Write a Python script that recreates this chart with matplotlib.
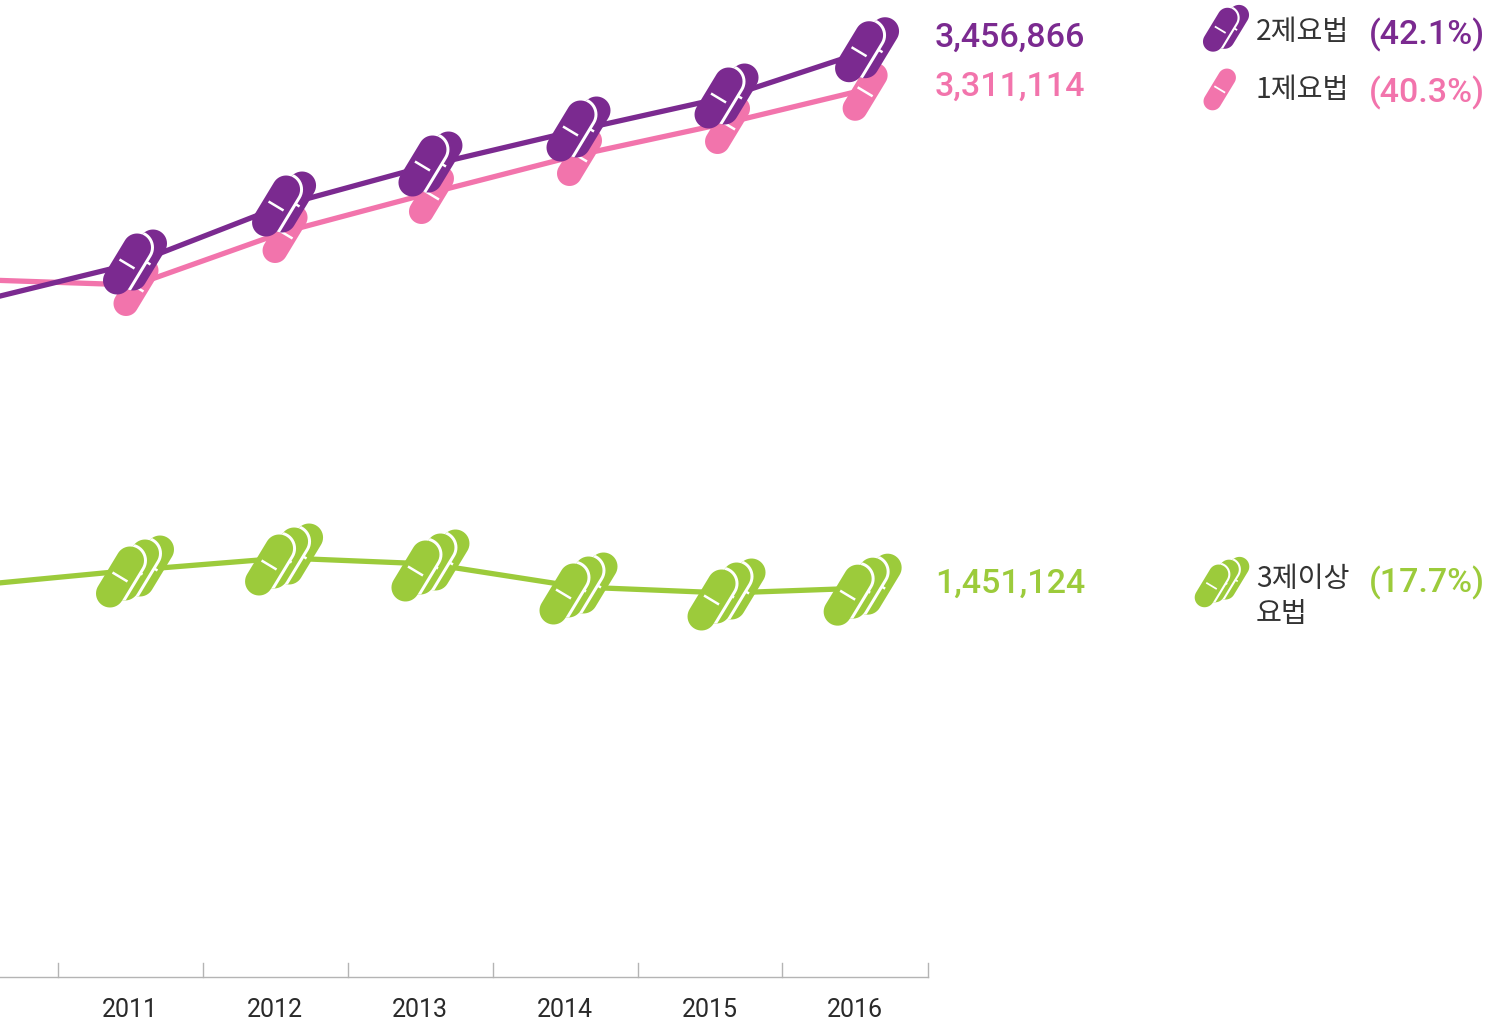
import numpy as np
import matplotlib
matplotlib.use("Agg")
import matplotlib.pyplot as plt
from matplotlib.path import Path
from matplotlib.patches import PathPatch
from matplotlib.transforms import IdentityTransform

W, H = 1504, 1022

# values
years = [2010, 2011, 2012, 2013, 2014, 2015, 2016]
tick_labels = ["2011", "2012", "2013", "2014", "2015", "2016"]
two_drugs = [2530296, 2664648, 2881104, 3030384, 3161004, 3284160, 3456866]
one_drug = [2601204, 2582544, 2780340, 2925888, 3067704, 3187128, 3311114]
three_drugs = [1466676, 1518924, 1563708, 1541316, 1455480, 1433088, 1451124]

# the marks do not sit evenly under the years in the original
two_x = [2010, 2011, 2012.014, 2013.01, 2014.017, 2015.024, 2015.98]
one_x = [2010, 2011, 2012.014, 2013.01, 2014.017, 2015.024, 2015.96]
three_x = [2010, 2011, 2012.014, 2013.01, 2014.017, 2015.024, 2015.95]

PURPLE = "#7b2a90"
PINK = "#f274ac"
GREEN = "#9ccb3b"
DARK = "#333333"
NUM_FONT = ["Roboto", "DejaVu Sans"]
KR_FONT = ["Noto Sans CJK KR", "DejaVu Sans"]

fig = plt.figure(figsize=(W / 100, H / 100), dpi=100)
ax = fig.add_axes([0, 0, 1, 1])
ax.axis("off")

# x: 147 px per year with 2011 at px 135, y: 3732 per px with 0 at px 977
ax.set_xlim(2011 - 135 / 147, 2011 + (W - 135) / 147)
ax.set_ylim(-(H - 977) * 3732, 977 * 3732)


def data_x(px):
    return 2011 + (px - 135) / 147


def data_y(py):
    return (977 - py) * 3732


def capsule(cx, cy, hx, hy, r):
    # capsule in display pixels, (cx, cy) with y up
    a = np.arctan2(hy, hx)
    t1 = np.linspace(a - np.pi / 2, a + np.pi / 2, 24)
    t2 = t1 + np.pi
    top = np.c_[cx + hx + r * np.cos(t1), cy + hy + r * np.sin(t1)]
    bot = np.c_[cx - hx + r * np.cos(t2), cy - hy + r * np.sin(t2)]
    pts = np.vstack([top, bot, top[:1]])
    codes = [Path.MOVETO] + [Path.LINETO] * (len(pts) - 2) + [Path.CLOSEPOLY]
    return Path(pts, codes)


def add_pill(cx, cy, color, s, r, z):
    hx, hy = 10 * s, 16.5 * s
    p = PathPatch(capsule(cx, cy, hx, hy, r * s), fc=color, ec="none",
                  transform=IdentityTransform(), zorder=z)
    ax.add_patch(p)
    ax.plot([cx - 7.5 * s, cx + 7.5 * s], [cy + 4.5 * s, cy - 4.5 * s], color="white",
            lw=1.8 * s, transform=IdentityTransform(), zorder=z, solid_capstyle="butt")
    return p


def pill_group(x, y, color, n, s=1.0, r=14, z=5):
    # stack of n pills, the front one at the left, white gap over those behind
    if n == 3:
        offs = [(15, 4), (0, 0), (-15, -7)]
    elif n == 2:
        offs = [(8, 3), (-8, -1)]
    else:
        offs = [(1, -2)]
    for i, (ox, oy) in enumerate(offs):
        cx, cy = x + ox * s, y + oy * s
        add_pill(cx, cy, color, s, r, z + i * 0.1)
        if i < len(offs) - 1:
            # white rim of the next pill, only where it lies on this one
            nx, ny = x + offs[i + 1][0] * s, y + offs[i + 1][1] * s
            rim = PathPatch(capsule(nx, ny, 10 * s, 16.5 * s, (r + 3) * s), fc="white", ec="none",
                            transform=IdentityTransform(), zorder=z + i * 0.1 + 0.05)
            ax.add_patch(rim)
            clip = PathPatch(capsule(cx, cy, 10 * s, 16.5 * s, r * s), transform=IdentityTransform())
            rim.set_clip_path(clip)


# baseline and ticks
ax.plot([data_x(0), data_x(928)], [0, 0], color="#b4b4b4", lw=1.0, zorder=1)
for px in [58, 203, 348, 493, 638, 782, 928]:
    ax.plot([data_x(px), data_x(px)], [0, data_y(963)], color="#b4b4b4", lw=1.0, zorder=1)
for k, lab in enumerate(tick_labels):
    ax.text(data_x(130 + 145 * k), data_y(1010), lab, ha="center", va="center",
            fontsize=18, color="#2a2a2a", family=NUM_FONT, fontweight="regular")

# lines and pills, pink goes under purple
for xs, vals, col, z in [(one_x, one_drug, PINK, 2), (two_x, two_drugs, PURPLE, 6), (three_x, three_drugs, GREEN, 2)]:
    ax.plot(xs, vals, color=col, lw=3.8, zorder=z, solid_capstyle="butt")
for yr, v in zip(one_x[1:], one_drug[1:]):
    x, y = ax.transData.transform((yr, v))
    pill_group(x, y, PINK, 1, r=12.5, z=3)
for yr, v in zip(two_x[1:], two_drugs[1:]):
    x, y = ax.transData.transform((yr, v))
    pill_group(x, y, PURPLE, 2, r=14, z=7)
for yr, v in zip(three_x[1:], three_drugs[1:]):
    x, y = ax.transData.transform((yr, v))
    pill_group(x, y, GREEN, 3, r=14, z=3)


def label(px, py, s, color, size, ha="left", font=NUM_FONT, weight="medium"):
    fig.text(px / W, 1 - py / H, s, color=color, fontsize=size, ha=ha, va="center",
             family=font, fontweight=weight)


# end values
label(1085, 38, "3,456,866", PURPLE, 24.5, ha="right")
label(1085, 87, "3,311,114", PINK, 24.5, ha="right")
label(1085, 584, "1,451,124", GREEN, 24.5, ha="right")

# legend
pill_group(1226, H - 29, PURPLE, 2, s=0.72, r=14, z=7)
pill_group(1219, H - 88, PINK, 1, s=0.72, r=12.5, z=7)
pill_group(1222, H - 581, GREEN, 3, s=0.7, r=14, z=7)
label(1256, 32, "2제요법", DARK, 20.3, font=KR_FONT, weight="regular")
label(1256, 90, "1제요법", DARK, 20.3, font=KR_FONT, weight="regular")
label(1256, 579, "3제이상", DARK, 20.3, font=KR_FONT, weight="regular")
label(1256, 614, "요법", DARK, 20.3, font=KR_FONT, weight="regular")
label(1485, 35, "(42.1%)", PURPLE, 24.5, ha="right")
label(1485, 93, "(40.3%)", PINK, 24.5, ha="right")
label(1485, 583, "(17.7%)", GREEN, 24.5, ha="right")

fig.savefig("out.png", dpi=100, facecolor="white")
